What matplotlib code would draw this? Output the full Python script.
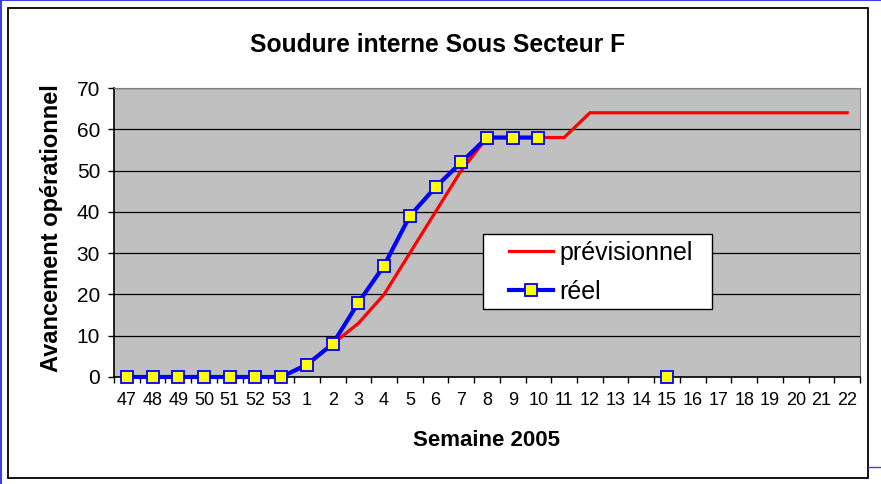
import numpy as np
import matplotlib.pyplot as plt
from matplotlib.patches import Rectangle
from matplotlib.lines import Line2D

plt.rcParams['font.family'] = ['Liberation Sans', 'DejaVu Sans']

# Weeks (end of 2004 then 2005)
semaines = ['47', '48', '49', '50', '51', '52', '53', '1', '2', '3', '4', '5', '6', '7',
            '8', '9', '10', '11', '12', '13', '14', '15', '16', '17', '18', '19', '20', '21', '22']

previsionnel = [0, 0, 0, 0, 0, 0, 0, 3, 8, 13, 20, 30, 40, 50,
                58, 58, 58, 58, 64, 64, 64, 64, 64, 64, 64, 64, 64, 64, 64]

nan = np.nan
reel = [0, 0, 0, 0, 0, 0, 0, 3, 8, 18, 27, 39, 46, 52,
        58, 58, 58, nan, nan, nan, nan, 0, nan, nan, nan, nan, nan, nan, nan]

x = np.arange(len(semaines))

fig = plt.figure(figsize=(8.81, 4.84), dpi=100)
ax = fig.add_axes([114 / 881, 1 - 377 / 484, 746 / 881, 289 / 484])
ax.set_facecolor('#C0C0C0')

ax.plot(x, previsionnel, color='#FF0000', lw=2.3, label='prévisionnel', zorder=3)
ax.plot(x, reel, color='#0000FF', lw=3, marker='s', markersize=8,
        markerfacecolor='#FFFF00', markeredgecolor='#0000FF', markeredgewidth=1.3,
        label='réel', zorder=4, clip_on=False)

ax.set_xlim(-0.5, len(semaines) - 0.5)
ax.set_ylim(0, 70)
ax.set_yticks(range(0, 71, 10))
ax.yaxis.grid(True, color='black', lw=0.9)
ax.set_axisbelow(True)

# tick marks between categories, labels at the centres
ax.set_xticks(np.arange(-0.5, len(semaines), 1))
ax.set_xticklabels([])
ax.set_xticks(x, minor=True)
ax.set_xticklabels(semaines, minor=True, fontsize=13)
ax.tick_params(axis='x', which='major', direction='out', length=4, width=1, color='black')
ax.tick_params(axis='x', which='minor', length=0, pad=11)
ax.tick_params(axis='y', direction='out', length=4, width=1, labelsize=15, pad=6)

for s in ['top', 'right']:
    ax.spines[s].set_color('#808080')
for s in ['left', 'bottom']:
    ax.spines[s].set_color('black')
    ax.spines[s].set_linewidth(1.2)

# legend box drawn separately so the padding can match the original
ax.add_patch(Rectangle(((483 - 114) / 746, (377 - 309) / 289), 229 / 746, 75 / 289,
                       transform=ax.transAxes, facecolor='white', edgecolor='black',
                       lw=1, zorder=5))
leg = ax.legend(loc='upper left', bbox_to_anchor=((509 - 114) / 746, (377 - 241) / 289),
                borderaxespad=0, borderpad=0, frameon=False, fontsize=18,
                handlelength=1.75, labelspacing=0.6, handletextpad=0.25)
leg.set_zorder(6)

fig.text(438 / 881, 1 - 52 / 484, 'Soudure interne Sous Secteur F', ha='center',
         va='baseline', fontsize=17.7, fontweight='bold')
fig.text(52 / 881, 1 - 228 / 484, 'Avancement opérationnel', rotation=90, ha='center',
         va='center', fontsize=17, fontweight='bold')
fig.text(487 / 881, 1 - 440 / 484, 'Semaine 2005', ha='center', va='center',
         fontsize=16, fontweight='bold')

# chart frame and page border
fig.patches.append(Rectangle((8 / 881, 1 - 478 / 484), 860 / 881, 470 / 484,
                             transform=fig.transFigure, fill=False, ec='black', lw=1.3))
fig.lines.append(Line2D([0, 1], [0.999, 0.999], transform=fig.transFigure, color='#4040E0', lw=1.5))
fig.lines.append(Line2D([0.001, 0.001], [0, 1], transform=fig.transFigure, color='#4040E0', lw=1.5))
fig.lines.append(Line2D([868 / 881, 1], [1 - 467 / 484, 1 - 467 / 484], transform=fig.transFigure,
                        color='#4040E0', lw=1))

fig.savefig('out.png', dpi=100)
